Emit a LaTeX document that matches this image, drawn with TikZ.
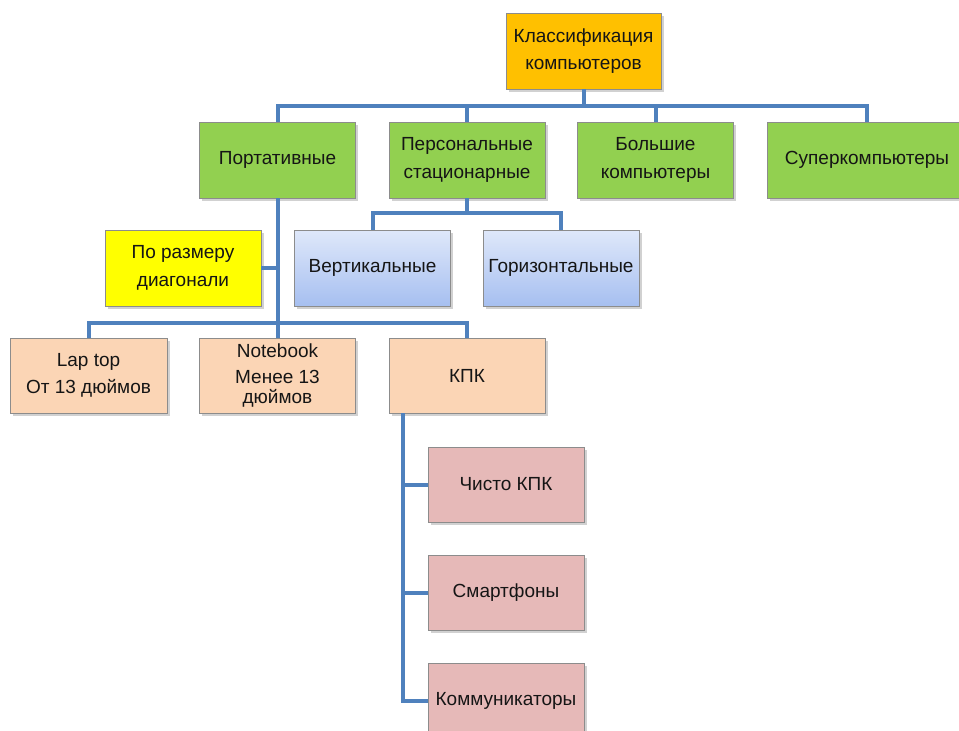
\documentclass[tikz,border=0pt]{standalone}
\usepackage{fontspec}
\setmainfont{Liberation Sans}
\usetikzlibrary{shadows}
\definecolor{lineblue}{HTML}{4F81BD}
\definecolor{orangebox}{HTML}{FFC000}
\definecolor{greenbox}{HTML}{92D050}
\definecolor{yellowbox}{HTML}{FFFF00}
\definecolor{peachbox}{HTML}{FBD5B5}
\definecolor{pinkbox}{HTML}{E6B9B8}
\definecolor{bluetop}{HTML}{DFE8FA}
\definecolor{bluebot}{HTML}{A6BFF0}
\definecolor{boxborder}{HTML}{8C8C8C}
\definecolor{txt}{HTML}{151515}
\tikzset{
  base/.style={draw=boxborder, line width=0.8pt, rectangle, align=center,
    minimum width=156pt, minimum height=76pt, inner sep=2pt, text=txt,
    font=\fontsize{19}{27.5}\selectfont,
    drop shadow={shadow xshift=2.5pt, shadow yshift=-3pt, fill=black!40, opacity=0.45}},
  orangeb/.style={base, fill=orangebox},
  greenb/.style={base, fill=greenbox},
  yellowb/.style={base, fill=yellowbox},
  peachb/.style={base, fill=peachbox},
  pinkb/.style={base, fill=pinkbox},
  blueb/.style={base, top color=bluetop, bottom color=bluebot},
  conn/.style={draw=lineblue, line width=4pt, line join=miter}
}
\begin{document}
\begin{tikzpicture}[x=1pt, y=-1pt]
\clip (0,0) rectangle (959,731);
\fill[white] (0,0) rectangle (959,731);

\node[orangeb, minimum width=155pt] (top) at (583.5,51) {Классификация\\компьютеров};
\node[greenb] (port) at (277.5,160) {Портативные};
\node[greenb] (pers) at (467,160) {Персональные\\стационарные};
\node[greenb] (bol) at (655.5,160) {Большие\\компьютеры};
\node[greenb, minimum width=200pt] (super) at (867,160) {Суперкомпьютеры};
\node[yellowb] (diag) at (183,268) {По размеру\\диагонали};
\node[blueb] (vert) at (372.5,268) {Вертикальные};
\node[blueb] (gor) at (561,268) {Горизонтальные};
\node[peachb, minimum width=157pt, minimum height=75pt] (lap) at (88.5,375.5) {Lap top\\[-1pt]От 13 дюймов};
\node[peachb, minimum height=75pt] (note) at (277.5,375.5) {};
\node[txt, font=\fontsize{19}{20}\selectfont, align=center] (notetext) at (277.5,376) {Notebook\\[6pt]Менее 13\\дюймов};
\node[peachb, minimum height=75pt] (kpk) at (467,375.5) {КПК};
\node[pinkb, minimum height=75pt] (chisto) at (506,484.5) {Чисто КПК};
\node[pinkb, minimum height=75pt] (smart) at (506,592.5) {Смартфоны};
\node[pinkb, minimum height=75pt] (komm) at (506,700.5) {Коммуникаторы};

% level 1 bus
\path (top.south) ++(0,17) coordinate (b1);
\draw[conn] (top.south) -- (b1);
\draw[conn] (port.north) |- (b1) -| (super.north);
\draw[conn] (pers.north) -- (pers.north |- b1);
\draw[conn] (bol.north) -- (bol.north |- b1);

% personal computers
\path (pers.south) ++(0,15) coordinate (b2);
\draw[conn] (pers.south) -- (b2);
\draw[conn] (vert.north) |- (b2) -| (gor.north);

% portable
\path (port.south) ++(0,125) coordinate (b3);
\draw[conn] (port.south) -- (note.north);
\draw[conn] (diag.east) -- (diag.east -| port.south);
\draw[conn] (lap.north) |- (b3) -| (kpk.north);

% KPK
\path (kpk.south) ++(-64,0) coordinate (k0);
\draw[conn] (k0) |- (komm.west);
\draw[conn] (chisto.west) -- (chisto.west -| k0);
\draw[conn] (smart.west) -- (smart.west -| k0);
\end{tikzpicture}
\end{document}
